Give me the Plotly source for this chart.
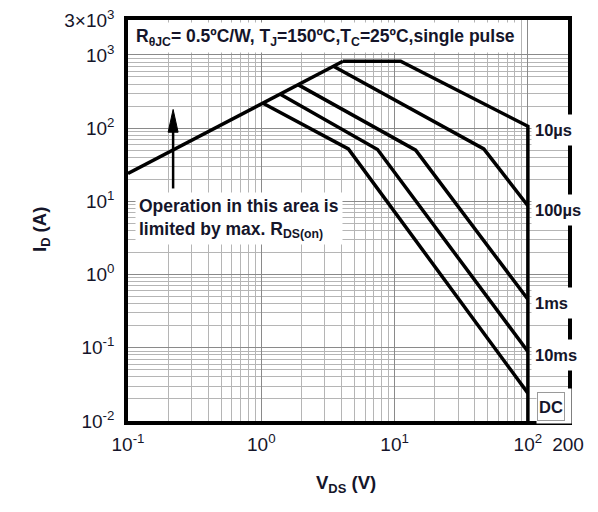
import math
import plotly.graph_objects as go

# ---------------- data ----------------
rds_v = [0.1, 4.1]
rds_i = [24, 820]

us10_v = [4.1, 11.1, 100, 100]
us10_i = [820, 820, 106, 0.01]

us100_v = [3.48, 46.7, 100]
us100_i = [700, 52, 8.7]

ms1_v = [1.90, 14.4, 100]
ms1_i = [390, 50, 0.46]

ms10_v = [1.39, 7.45, 100]
ms10_i = [290, 51, 0.089]

dc_v = [1.03, 4.5, 100]
dc_i = [219, 52, 0.024]

curve_labels = ["10µs", "100µs", "1ms", "10ms", "DC"]
label_i = [106, 8.7, 0.46, 0.089, 0.024]

x_tickvals = [0.1, 1, 10, 100, 200]
x_ticktext = ["10<sup>-1</sup>", "10<sup>0</sup>", "10<sup>1</sup>", "10<sup>2</sup>", "200"]
y_tickvals = [0.01, 0.1, 1, 10, 100, 1000, 3000]
y_ticktext = ["10<sup>-2</sup>", "10<sup>-1</sup>", "10<sup>0</sup>", "10<sup>1</sup>",
              "10<sup>2</sup>", "10<sup>3</sup>", "3×10<sup>3</sup>"]
x_minor = [m * 10 ** e for e in (-1, 0, 1) for m in range(2, 10)]
y_minor = [m * 10 ** e for e in (-2, -1, 0, 1, 2) for m in range(2, 10)]

arrow_v = 0.218
arrow_tip_i = 180
arrow_base_i = 88
arrow_tail_i = 15

# ---------------- figure ----------------
X0, X1 = -1, math.log10(200)
Y0, Y1 = -2, math.log10(3000)
W, H = 598, 512
ML, MR, MT, MB = 128, 30, 20, 91
PW, PH = W - ML - MR, H - MT - MB


def xp(v):
    return (math.log10(v) - X0) / (X1 - X0)


def yp(v):
    return (math.log10(v) - Y0) / (Y1 - Y0)


FONT = "Liberation Sans, Arial, sans-serif"
TXT = "#15152a"

fig = go.Figure()
for vx, iy in [(rds_v, rds_i), (us10_v, us10_i), (us100_v, us100_i),
               (ms1_v, ms1_i), (ms10_v, ms10_i), (dc_v, dc_i)]:
    fig.add_trace(go.Scatter(x=vx, y=iy, mode="lines",
                             line=dict(color="black", width=3.5),
                             hoverinfo="skip", showlegend=False))

shapes = []
# blank strip between 100 V and 200 V (no grid there)
shapes.append(dict(type="rect", xref="x", yref="paper", x0=102, x1=200, y0=0, y1=1,
                   fillcolor="white", line=dict(width=0), layer="between"))
# arrow shaft + head
ax_ = xp(arrow_v)
shapes.append(dict(type="line", xref="paper", yref="paper",
                   x0=ax_, x1=ax_, y0=yp(arrow_tail_i), y1=yp(arrow_base_i) + 0.005,
                   line=dict(color="black", width=2.5), layer="above"))
hw = 5.0 / PW
shapes.append(dict(type="path", xref="paper", yref="paper",
                   path=f"M {ax_ - hw},{yp(arrow_base_i)} L {ax_},{yp(arrow_tip_i)} L {ax_ + hw},{yp(arrow_base_i)} Z",
                   fillcolor="black", line=dict(color="black", width=1), layer="above"))

annotations = []
annotations.append(dict(
    xref="paper", yref="paper", x=4 / PW, y=1 - 2 / PH, xanchor="left", yanchor="top",
    text="R<sub>θJC</sub>= 0.5ºC/W, T<sub>J</sub>=150ºC,T<sub>C</sub>=25ºC,single pulse",
    showarrow=False, bgcolor="white", borderpad=3,
    font=dict(family=FONT, size=17.5, color=TXT, weight="bold")))
annotations.append(dict(
    xref="paper", yref="paper", x=7 / PW, y=(421 - 218) / PH, xanchor="left", yanchor="middle",
    align="left",
    text="Operation in this area is<br>limited by max. R<sub>DS(on)</sub>",
    showarrow=False, bgcolor="white", borderpad=3,
    font=dict(family=FONT, size=17.5, color=TXT, weight="bold")))

for lab, iv in zip(curve_labels, label_i):
    is_dc = lab == "DC"
    if is_dc:
        # cover the bottom-right corner of the frame
        annotations.append(dict(xref="paper", yref="paper", x=(536 - ML) / PW, y=(421 - 388) / PH,
                                xanchor="left", yanchor="top", text=" ", showarrow=False,
                                bgcolor="white", width=34, height=34, borderpad=0))
        annotations.append(dict(xref="paper", yref="paper", x=(537 - ML) / PW, y=(421 - 392) / PH,
                                xanchor="left", yanchor="top", text="DC", showarrow=False,
                                bgcolor="white", bordercolor="#9a9a9a", borderwidth=1,
                                width=26, height=27, borderpad=0, align="center",
                                font=dict(family=FONT, size=16.5, color=TXT, weight="bold")))
    else:
        annotations.append(dict(xref="paper", yref="paper", x=(531 - ML) / PW, y=yp(iv) - 4 / PH,
                                xanchor="left", yanchor="middle", text=lab, showarrow=False,
                                bgcolor="white", width=50, height=24, borderpad=3, align="left",
                                font=dict(family=FONT, size=16.5, color=TXT, weight="bold")))

annotations.append(dict(xref="paper", yref="paper", x=(27 - ML) / PW, y=(421 - 230) / PH,
                        text="I<sub>D</sub> (A)", textangle=-90, showarrow=False,
                        font=dict(family=FONT, size=18.5, color=TXT, weight="bold")))
annotations.append(dict(xref="paper", yref="paper", x=(346 - ML) / PW, y=(421 - 498) / PH,
                        text="V<sub>DS</sub> (V)", showarrow=False,
                        font=dict(family=FONT, size=18.5, color=TXT, weight="bold")))

fig.update_layout(
    width=W, height=H, margin=dict(l=ML, r=MR, t=MT, b=MB, autoexpand=False),
    paper_bgcolor="white", plot_bgcolor="white",
    shapes=shapes, annotations=annotations, showlegend=False,
    font=dict(family=FONT, color=TXT),
)
fig.update_xaxes(type="log", range=[X0, X1], tickvals=x_tickvals, ticktext=x_ticktext,
                 showgrid=True, gridcolor="#8a8a8a", gridwidth=1.2,
                 minor=dict(tickvals=x_minor, showgrid=True, gridcolor="#b5b5b5", gridwidth=1, ticks=""),
                 showline=True, mirror=True, linecolor="black", linewidth=3.5,
                 ticks="", ticklabelstandoff=3, zeroline=False,
                 tickfont=dict(family=FONT, size=19, color=TXT))
fig.update_yaxes(type="log", range=[Y0, Y1], tickvals=y_tickvals, ticktext=y_ticktext,
                 showgrid=True, gridcolor="#8a8a8a", gridwidth=1.2,
                 minor=dict(tickvals=y_minor, showgrid=True, gridcolor="#b5b5b5", gridwidth=1, ticks=""),
                 showline=True, mirror=True, linecolor="black", linewidth=3.5,
                 ticks="", ticklabelstandoff=6, zeroline=False,
                 tickfont=dict(family=FONT, size=19, color=TXT))

fig.write_html("out.html")
